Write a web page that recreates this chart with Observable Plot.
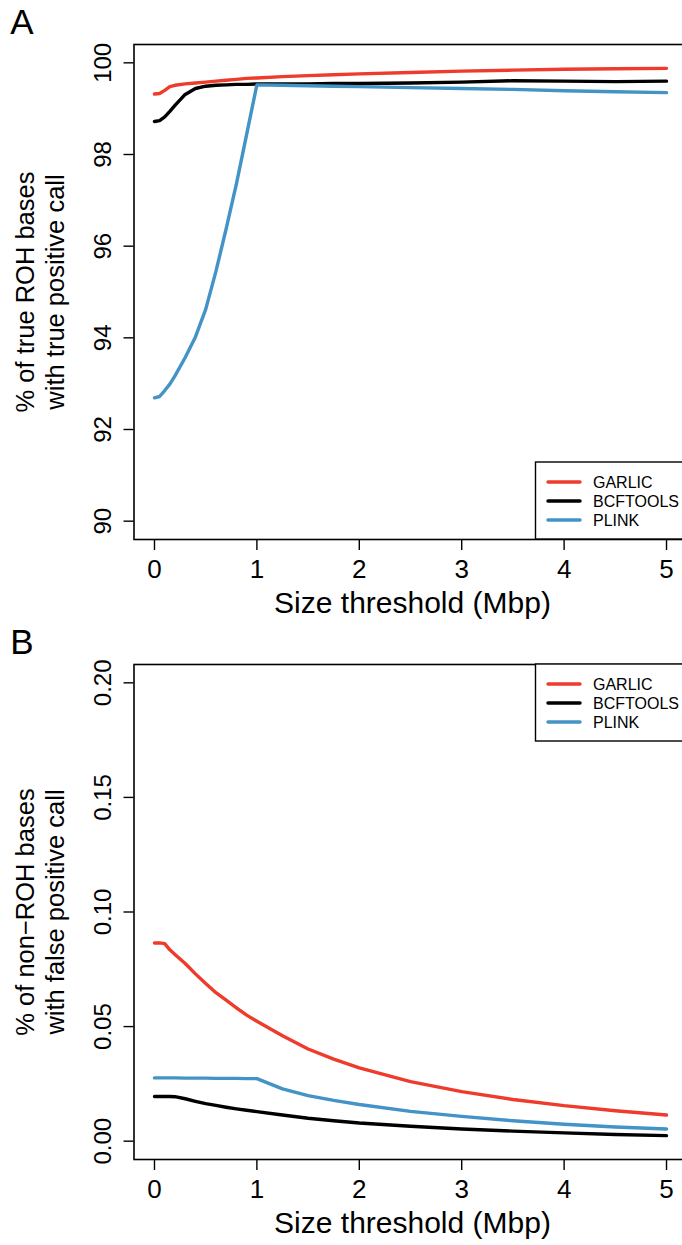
<!DOCTYPE html>
<html>
<head>
<meta charset="utf-8">
<script src="https://cdn.jsdelivr.net/npm/d3@7"></script>
<script src="https://cdn.jsdelivr.net/npm/@observablehq/plot@0.6"></script>
<style>
  html, body { margin: 0; padding: 0; background: #fff; overflow: hidden; width: 682px; height: 1245px; }
  .panel { display: block; width: 682px; overflow: hidden; }
  .panel svg { display: block; max-width: none !important; height: auto; font-family: "Liberation Sans", Arial, Helvetica, sans-serif; }
</style>
</head>
<body>
<div id="panelA" class="panel"></div>
<div id="panelB" class="panel"></div>
<script>
// ---- data ----
const thresholds = [0, 0.05, 0.1, 0.15, 0.2, 0.3, 0.4, 0.5, 0.6, 0.7, 0.8, 0.9, 1.0, 1.25, 1.5, 1.75, 2.0, 2.5, 3.0, 3.5, 4.0, 4.5, 5.0];
const series = ["GARLIC", "BCFTOOLS", "PLINK"];
const colors = ["#EE3B2C", "#000000", "#4393C6"];

// Panel A: % of true ROH bases with true positive call
const garlicTP   = [99.32, 99.33, 99.40, 99.48, 99.51, 99.54, 99.56, 99.58, 99.60, 99.62, 99.64, 99.66, 99.67, 99.70, 99.72, 99.74, 99.76, 99.79, 99.82, 99.84, 99.86, 99.87, 99.88];
const bcftoolsTP = [98.72, 98.74, 98.82, 98.94, 99.07, 99.31, 99.44, 99.49, 99.51, 99.52, 99.53, 99.53, 99.54, 99.54, 99.54, 99.55, 99.55, 99.56, 99.58, 99.61, 99.60, 99.59, 99.60];
const plinkTP    = [92.69, 92.72, 92.85, 92.99, 93.17, 93.57, 94.02, 94.62, 95.45, 96.38, 97.36, 98.44, 99.52, 99.51, 99.50, 99.49, 99.48, 99.46, 99.44, 99.42, 99.39, 99.37, 99.35];

// Panel B: % of non-ROH bases with false positive call
const garlicFP   = [0.0865, 0.0865, 0.0862, 0.0835, 0.0815, 0.0775, 0.0730, 0.0688, 0.0648, 0.0615, 0.0582, 0.0550, 0.0523, 0.0460, 0.0402, 0.0358, 0.0320, 0.0260, 0.0216, 0.0182, 0.0155, 0.0133, 0.0114];
const bcftoolsFP = [0.0195, 0.0195, 0.0195, 0.0195, 0.0194, 0.0185, 0.0174, 0.0164, 0.0156, 0.0148, 0.0141, 0.0135, 0.0129, 0.0114, 0.0100, 0.0089, 0.0079, 0.0065, 0.0053, 0.0044, 0.0036, 0.0029, 0.0024];
const plinkFP    = [0.0276, 0.0276, 0.0276, 0.0276, 0.0276, 0.0275, 0.0275, 0.0275, 0.0274, 0.0274, 0.0274, 0.0273, 0.0273, 0.0228, 0.0199, 0.0178, 0.0160, 0.0130, 0.0108, 0.0089, 0.0074, 0.0062, 0.0053];

const xTicks = [0, 1, 2, 3, 4, 5];
const yTicksA = [90, 92, 94, 96, 98, 100];
const yTicksB = [0.00, 0.05, 0.10, 0.15, 0.20];

const xLabel = "Size threshold (Mbp)";
const yLabelA = "% of true ROH bases\nwith true positive call";
const yLabelB = "% of non\u2212ROH bases\nwith false positive call";

function toLong(arrays) {
  const out = [];
  arrays.forEach((arr, i) => arr.forEach((v, j) => out.push({series: series[i], t: thresholds[j], v})));
  return out;
}
const dataA = toLong([garlicTP, bcftoolsTP, plinkTP]);
const dataB = toLong([garlicFP, bcftoolsFP, plinkFP]);

function panel({data, yDomain, yTicks, yFormat, yLabel, letter, height, marginBottom, legendTop}) {
  const svg = Plot.plot({
    width: 690,
    height,
    marginLeft: 133.5,
    marginRight: 3.5,
    marginTop: 44,
    marginBottom,
    style: {fontFamily: '"Liberation Sans", Arial, Helvetica, sans-serif', background: "white", color: "black", overflow: "visible"},
    x: {domain: [-0.2, 5.2], axis: null},
    y: {domain: yDomain, axis: null},
    color: {domain: series, range: colors},
    marks: [
      Plot.line(data, {x: "t", y: "v", z: "series", stroke: "series", strokeWidth: 3.4, strokeLinecap: "round", strokeLinejoin: "round"}),
      Plot.frame({stroke: "black", strokeWidth: 1.6}),
      Plot.axisX(xTicks, {tickSize: 11, tickPadding: 9, fontSize: 26, label: null, strokeWidth: 1.4}),
      Plot.axisY(yTicks, {tickSize: 10, tickFormat: () => "", label: null, strokeWidth: 1.4}),
      Plot.text(yTicks, {y: d => d, frameAnchor: "left", dx: -31, rotate: -90, fontSize: 24, textAnchor: "middle", lineAnchor: "middle", text: yFormat}),
      Plot.text([yLabel], {frameAnchor: "left", dx: -95, rotate: -90, fontSize: 25.5, lineHeight: 1.18, textAnchor: "middle", lineAnchor: "middle", text: d => d}),
      Plot.text([xLabel], {frameAnchor: "bottom", dx: 2, dy: 64, fontSize: 30, textAnchor: "middle", lineAnchor: "middle", text: d => d}),
      Plot.text([letter], {frameAnchor: "top-left", dx: -112, dy: -22, fontSize: 35, textAnchor: "middle", lineAnchor: "middle", text: d => d})
    ]
  });
  // legend (R-style box)
  const g = d3.select(svg).append("g");
  const lx = 535.5;
  g.append("rect").attr("x", lx).attr("y", legendTop).attr("width", 200).attr("height", 77)
    .attr("fill", "white").attr("stroke", "black").attr("stroke-width", 1.4);
  series.forEach((s, i) => {
    const yy = legendTop + 20 + i * 19;
    g.append("line").attr("x1", 548).attr("x2", 580).attr("y1", yy).attr("y2", yy)
      .attr("stroke", colors[i]).attr("stroke-width", 3.4).attr("stroke-linecap", "round");
    g.append("text").attr("x", 593).attr("y", yy).attr("dy", "0.36em")
      .attr("text-anchor", "start").attr("font-size", 16).attr("fill", "black").text(s);
  });
  return svg;
}

document.getElementById("panelA").appendChild(panel({
  data: dataA, yDomain: [89.6, 100.4], yTicks: yTicksA, yFormat: d => d3.format("d")(d),
  yLabel: yLabelA, letter: "A", height: 620, marginBottom: 81, legendTop: 462
}));
document.getElementById("panelB").appendChild(panel({
  data: dataB, yDomain: [-0.008, 0.208], yTicks: yTicksB, yFormat: d => d3.format(".2f")(d),
  yLabel: yLabelB, letter: "B", height: 625, marginBottom: 86, legendTop: 44
}));
</script>
</body>
</html>
